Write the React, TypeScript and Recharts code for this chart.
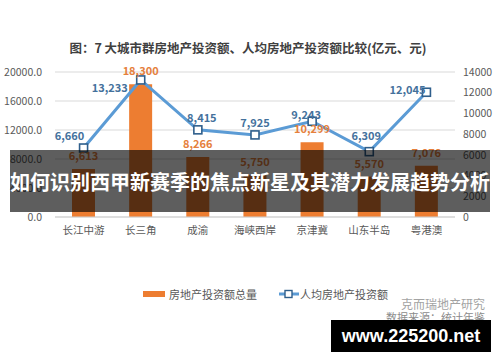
import React from 'react';
import { ComposedChart, Bar, Line, XAxis, YAxis, CartesianGrid, LabelList, Legend } from 'recharts';

const regions = ['长江中游', '长三角', '成渝', '海峡西岸', '京津冀', '山东半岛', '粤港澳'];
const investTotal = [6613, 18300, 8266, 5750, 10299, 5570, 7076];
const investPerCapita = [6660, 13233, 8415, 7925, 9243, 6309, 12045];
const leftTicks = [0, 4000, 8000, 12000, 16000, 20000];
const rightTicks = [0, 2000, 4000, 6000, 8000, 10000, 12000, 14000];

const data = regions.map((name, i) => ({
    name,
    total: investTotal[i],
    perCapita: investPerCapita[i],
}));

const FONT = '"Noto Sans CJK SC", "Noto Sans", sans-serif';
const ORANGE = '#ed7d31';
const BLUE = '#5b9bd5';
const NAVY = '#2f5f8c';

// nudges so the line labels don't sit on the bars / each other
const lineLabelShift: Record<string, [number, number]> = {
    长江中游: [-14, -13],
    长三角: [-31, 7],
    成渝: [4, -13],
    海峡西岸: [0, -13],
    京津冀: [-6, -7],
    山东半岛: [-3, -17],
    粤港澳: [-19, -3],
};

const fmt = (v: number) => v.toLocaleString('en-US');

const SquareDot = (props: any) => {
    const { cx, cy } = props;
    if (cx == null || cy == null) return null;
    return <rect x={cx - 4} y={cy - 4} width={8} height={8} fill="#ffffff" stroke={NAVY} strokeWidth={1.6} />;
};

const LineLabel = (props: any) => {
    const { x, y, value, index } = props;
    const [dx, dy] = lineLabelShift[regions[index]] || [0, -13];
    return (
        <text x={x + dx} y={y + dy} textAnchor="middle" dominantBaseline="central"
            fill="#44719c" fontSize={11} fontWeight="bold" fontFamily={FONT}>
            {fmt(value)}
        </text>
    );
};

const BarLabel = (props: any) => {
    const { x, y, width, value } = props;
    return (
        <text x={x + width / 2} y={y - 14} textAnchor="middle" dominantBaseline="central"
            fill="#e5803c" fontSize={11} fontWeight="bold" fontFamily={FONT}>
            {fmt(value)}
        </text>
    );
};

const LegendContent = () => (
    <div style={{ display: 'flex', justifyContent: 'center', alignItems: 'center', fontFamily: FONT, fontSize: 11, color: '#595959' }}>
        <svg width={24} height={10} style={{ marginRight: 3 }}>
            <rect x={1} y={2} width={22} height={6} fill={ORANGE} />
        </svg>
        <span style={{ marginRight: 22 }}>房地产投资额总量</span>
        <svg width={20} height={10} style={{ marginRight: 1 }}>
            <line x1={0} y1={5} x2={20} y2={5} stroke={BLUE} strokeWidth={3} />
            <rect x={6} y={1.5} width={7} height={7} fill="#fff" stroke={NAVY} strokeWidth={1.4} />
        </svg>
        <span>人均房地产投资额</span>
    </div>
);

export default function App() {
    return (
        <div style={{ position: 'absolute', left: 0, top: 0, width: 500, height: 362, background: '#fff', overflow: 'hidden', fontFamily: FONT }}>
            <div style={{ position: 'absolute', left: 0, top: 38, width: 496, textAlign: 'center', fontSize: 12.5, fontWeight: 'bold', color: '#404040' }}>
                图：7 大城市群房地产投资额、人均房地产投资额比较(亿元、元)
            </div>

            <ComposedChart width={500} height={362} data={data} margin={{ top: 72, right: 0, bottom: 115, left: 0 }}>
                <CartesianGrid vertical={false} stroke="#d9d9d9" yAxisId="left" />
                <XAxis dataKey="name" axisLine={{ stroke: '#d0d0d0' }} tickLine={false} tickMargin={4}
                    tick={{ fill: '#595959', fontSize: 10.5, fontFamily: FONT }} />
                <YAxis yAxisId="left" width={55} domain={[0, 20000]} ticks={leftTicks} axisLine={false} tickLine={false}
                    tickMargin={7} tickFormatter={(v) => v.toFixed(1)}
                    tick={{ fill: '#595959', fontSize: 10.5, fontFamily: FONT }} />
                <YAxis yAxisId="right" orientation="right" width={45} domain={[0, 14000]} ticks={rightTicks}
                    axisLine={false} tickLine={false} tickMargin={2}
                    tick={{ fill: '#595959', fontSize: 10.5, fontFamily: FONT, textAnchor: 'start' }} />
                <Bar yAxisId="left" dataKey="total" fill={ORANGE} barSize={23} isAnimationActive={false}>
                    <LabelList dataKey="total" content={BarLabel} />
                </Bar>
                <Line yAxisId="right" dataKey="perCapita" type="linear" stroke={BLUE} strokeWidth={3}
                    dot={<SquareDot />} activeDot={false} isAnimationActive={false}>
                    <LabelList dataKey="perCapita" content={LineLabel} />
                </Line>
                <Legend layout="horizontal" verticalAlign="middle" align="center" content={<LegendContent />}
                    wrapperStyle={{ position: 'absolute', top: 286, left: 0, width: 530 }} />
            </ComposedChart>

            <div style={{ position: 'absolute', right: 15, top: 295, fontSize: 12, color: '#a3a3a3' }}>克而瑞地产研究</div>
            <div style={{ position: 'absolute', right: 15, top: 309, fontSize: 11, color: '#8c8c8c' }}>数据来源：统计年鉴</div>

            <div style={{
                position: 'absolute', left: 10, top: 150, width: 480, height: 62, background: 'rgba(0,0,0,0.63)',
                display: 'flex', alignItems: 'center', justifyContent: 'center',
                color: '#fff', fontSize: 20, fontWeight: 'bold', whiteSpace: 'nowrap',
            }}>
                如何识别西甲新赛季的焦点新星及其潜力发展趋势分析
            </div>

            <div style={{
                position: 'absolute', left: 331, top: 320, width: 160, height: 32, background: '#000',
                display: 'flex', alignItems: 'center', justifyContent: 'center',
                color: '#fff', fontSize: 18, fontWeight: 'bold', fontFamily: '"Liberation Sans", Arial, sans-serif',
            }}>
                www.225200.net
            </div>
        </div>
    );
}
